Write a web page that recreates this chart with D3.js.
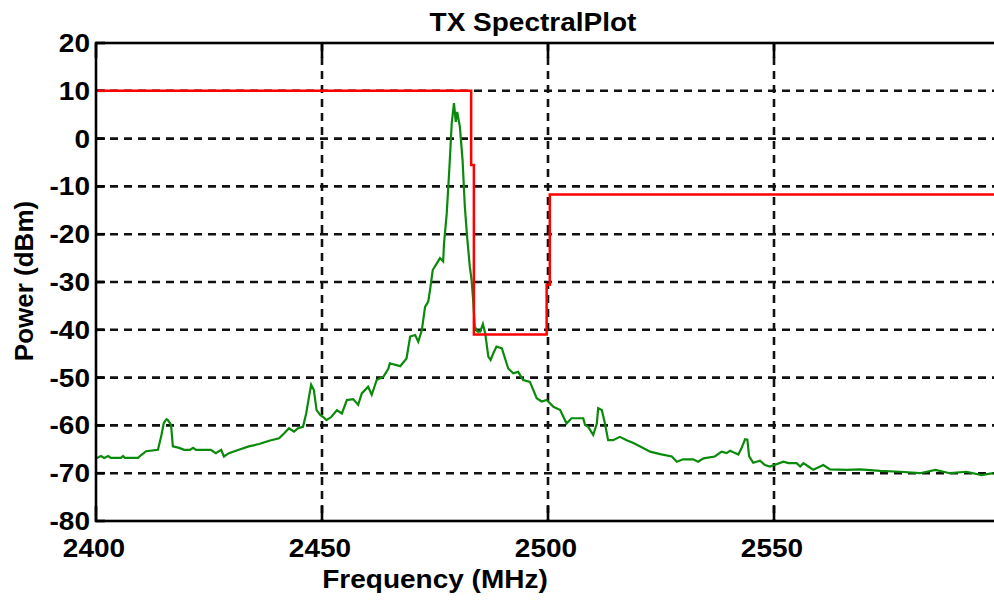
<!DOCTYPE html>
<html><head><meta charset="utf-8">
<script src="https://cdn.jsdelivr.net/npm/d3@7"></script>
<style>
html,body{margin:0;padding:0;background:#fff;overflow:hidden;}
text{font-family:"Liberation Sans",Arial,sans-serif;font-weight:bold;fill:#000;}
</style></head>
<body>
<script>
// ---- data ----
const xTicks = [2400, 2450, 2500, 2550];
const yTicks = [20, 10, 0, -10, -20, -30, -40, -50, -60, -70, -80];

const maskFreq  = [2400, 2483.0, 2483.0, 2483.6, 2483.6, 2499.7, 2499.7, 2500.4, 2500.4, 2600];
const maskPower = [10, 10, -5.5, -5.5, -41, -41, -30.6, -30.6, -11.7, -11.7];

const specFreq = [2400.0,2401.1,2401.8,2402.7,2403.3,2405.5,2406.0,2406.4,2409.3,2410.0,2411.1,2413.7,2414.4,2415.0,2415.6,2415.9,2416.6,2417.0,2418.4,2419.5,2420.8,2421.5,2422.1,2425.4,2426.5,2427.7,2428.3,2429.4,2431.6,2433.8,2436.1,2438.3,2440.5,2441.6,2442.7,2443.8,2444.7,2445.8,2446.5,2447.0,2447.6,2448.2,2448.8,2449.6,2450.2,2451.0,2452.1,2453.3,2454.4,2455.5,2456.9,2458.0,2458.8,2460.2,2461.0,2462.1,2463.6,2464.7,2465.0,2467.3,2468.7,2469.5,2470.6,2471.3,2472.1,2472.8,2473.5,2473.9,2474.5,2475.4,2476.1,2476.8,2477.0,2477.6,2478.2,2478.7,2479.2,2479.6,2479.9,2480.5,2481.1,2481.6,2482.1,2482.7,2483.1,2483.5,2483.8,2484.4,2485.0,2485.6,2486.1,2486.8,2487.3,2487.9,2488.6,2489.8,2490.5,2491.2,2492.3,2493.4,2494.5,2496.0,2497.5,2498.6,2499.7,2501.2,2502.7,2504.1,2505.2,2507.8,2508.2,2508.9,2510.0,2510.8,2511.1,2511.9,2512.6,2513.3,2514.4,2515.9,2517.4,2518.9,2520.4,2522.6,2524.8,2527.4,2528.5,2529.9,2532.1,2533.2,2534.4,2536.9,2538.4,2539.5,2540.3,2541.4,2542.1,2542.8,2543.6,2544.1,2544.5,2545.4,2546.9,2548.0,2549.1,2552.1,2553.2,2555.0,2555.8,2556.5,2557.6,2558.7,2560.9,2562.4,2566.1,2569.0,2573.5,2577.9,2582.3,2585.7,2588.9,2592.6,2595.9,2598.5];
const specPower = [-66.9,-66.4,-66.8,-66.4,-66.8,-66.8,-66.4,-66.8,-66.8,-66.2,-65.4,-65.1,-62.4,-59.5,-58.7,-58.9,-59.9,-64.4,-64.7,-65.1,-65.1,-64.7,-65.1,-65.1,-65.8,-65.1,-66.5,-65.8,-65.1,-64.4,-63.9,-63.2,-62.7,-61.7,-60.6,-61.3,-60.6,-60.3,-57.5,-54.7,-51.5,-52.6,-56.8,-57.8,-58.2,-58.9,-58.2,-56.8,-57.5,-54.7,-54.5,-55.7,-53.3,-51.9,-53.6,-50.5,-49.8,-48.1,-47.0,-47.6,-46.0,-41.4,-41.1,-42.5,-40.0,-35.2,-34.1,-31.7,-27.5,-26.1,-25.0,-25.7,-21.9,-15.6,-5.9,3.2,7.4,3.5,5.6,2.5,-4.5,-14.2,-20.5,-26.8,-29.6,-34.5,-39.3,-40.4,-40.4,-38.8,-40.7,-45.6,-46.3,-44.9,-43.5,-43.9,-46.0,-48.1,-49.1,-48.8,-50.5,-50.9,-54.3,-55.0,-54.7,-56.1,-56.8,-59.6,-58.5,-58.5,-59.9,-60.3,-62.0,-59.6,-56.4,-56.8,-59.6,-63.1,-63.1,-62.4,-63.1,-63.7,-64.4,-65.5,-66.0,-66.5,-67.6,-67.1,-67.1,-67.6,-66.9,-66.5,-65.5,-65.8,-65.3,-65.8,-66.1,-64.8,-62.9,-63.0,-66.5,-67.8,-67.4,-68.3,-68.6,-67.6,-67.9,-67.9,-68.6,-67.9,-68.6,-69.3,-68.3,-69.2,-69.3,-69.2,-69.5,-69.7,-70.0,-69.3,-70.0,-69.7,-70.4,-70.0];

// ---- layout ----
const W = 994, H = 601;
const L = 96, T = 43, R = 1000, B = 521;
const SX = 1.12;

const svg = d3.select("body").append("svg").attr("width", W).attr("height", H);

const x = d3.scaleLinear().domain([2400, 2600]).range([L, R]);
const y = d3.scaleLinear().domain([-80, 20]).range([B, T]);

// grid
const grid = svg.append("g");
grid.selectAll("line.gx").data(xTicks.filter(d => d > 2400)).join("line")
  .attr("x1", d => x(d)).attr("x2", d => x(d)).attr("y1", T).attr("y2", B)
  .attr("stroke", "#111").attr("stroke-width", 2.6).attr("stroke-dasharray", "8,6");
grid.selectAll("line.gy").data(yTicks.filter(d => d > -80 && d < 20)).join("line")
  .attr("x1", L).attr("x2", R).attr("y1", d => y(d)).attr("y2", d => y(d))
  .attr("stroke", "#111").attr("stroke-width", 2.6).attr("stroke-dasharray", "8,6");

// inward ticks
const ticks = svg.append("g");
xTicks.forEach(d => {
  ticks.append("line").attr("x1", x(d)).attr("x2", x(d)).attr("y1", T).attr("y2", T + 15).attr("stroke", "#000").attr("stroke-width", 2.6);
  ticks.append("line").attr("x1", x(d)).attr("x2", x(d)).attr("y1", B).attr("y2", B - 15).attr("stroke", "#000").attr("stroke-width", 2.6);
});
yTicks.forEach(d => {
  ticks.append("line").attr("x1", L).attr("x2", L + 9).attr("y1", y(d)).attr("y2", y(d)).attr("stroke", "#000").attr("stroke-width", 2.6);
});

// data lines
const lineGen = d3.line().x(d => x(d[0])).y(d => y(d[1]));
svg.append("path").datum(specFreq.map((f, i) => [f, specPower[i]]))
  .attr("d", lineGen).attr("fill", "none").attr("stroke", "#0a8a0a").attr("stroke-width", 2.2).attr("stroke-linejoin", "miter");
svg.append("path").datum(maskFreq.map((f, i) => [f, maskPower[i]]))
  .attr("d", lineGen).attr("fill", "none").attr("stroke", "#ff0000").attr("stroke-width", 2.5);

// axes box
svg.append("rect").attr("x", L).attr("y", T).attr("width", R - L).attr("height", B - T)
  .attr("fill", "none").attr("stroke", "#000").attr("stroke-width", 2.6);

// tick labels
function stext(g, tx, ty, str, anchor, size) {
  const gg = g.append("g").attr("transform", `translate(${tx},${ty}) scale(${SX},1)`);
  gg.append("text").attr("text-anchor", anchor).attr("font-size", size).text(str);
}
const lab = svg.append("g");
yTicks.forEach(d => stext(lab, 90, y(d) + 9, String(d), "end", 25));
xTicks.forEach(d => stext(lab, x(d) - 2, 557, String(d), "middle", 25));

// titles
stext(svg, 533, 31, "TX SpectralPlot", "middle", 25);
stext(svg, 435, 588, "Frequency (MHz)", "middle", 25);
svg.append("text").attr("transform", "translate(33,281) rotate(-90)")
  .attr("text-anchor", "middle").attr("font-size", 26).text("Power (dBm)");
</script>
</body></html>
